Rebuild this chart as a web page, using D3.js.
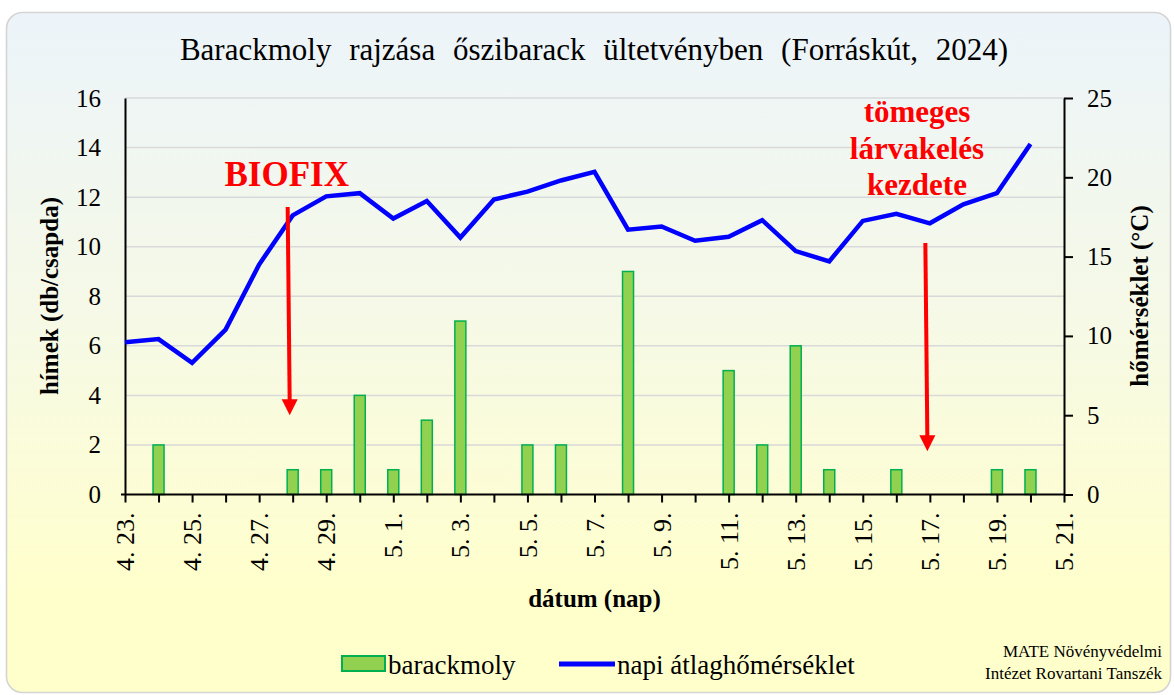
<!DOCTYPE html>
<html lang="hu">
<head>
<meta charset="UTF-8">
<title>Barackmoly rajzása</title>
<script src="https://d3js.org/d3.v7.min.js"></script>
<style>
body { margin: 0; background: #fff; }
text { font-family: "Liberation Serif", "Times New Roman", serif; fill: #000; }
</style>
</head>
<body>
<script>
// napok (hónap.nap)
var days = ["4.23","4.24","4.25","4.26","4.27","4.28","4.29","4.30",
  "5.1","5.2","5.3","5.4","5.5","5.6","5.7","5.8","5.9","5.10",
  "5.11","5.12","5.13","5.14","5.15","5.16","5.17","5.18","5.19","5.20","5.21"];

// barackmoly hímek / csapda
var moths = [0,2,0,0,0,1,1,4,1,3,7,0,2,2,0,9,0,0,5,2,6,1,0,1,0,0,1,1,0];

// napi átlaghőmérséklet (°C)
var temps = [9.6,9.8,8.3,10.4,14.5,17.6,18.8,19.0,17.4,18.5,16.2,18.6,19.1,19.8,20.35,
  16.7,16.9,16.0,16.25,17.3,15.35,14.7,17.25,17.7,17.1,18.3,19.0,22.1,null];

var leftTicks = [0,2,4,6,8,10,12,14,16];
var rightTicks = [0,5,10,15,20,25];

var width = 1174, height = 695;
var pLeft = 125, pRight = 1064, pTop = 98, pBottom = 494.5;

var svg = d3.select("body").append("svg")
  .attr("width", width)
  .attr("height", height);

var defs = svg.append("defs");
var grad = defs.append("linearGradient").attr("id", "bg")
  .attr("x1", 0).attr("y1", 0).attr("x2", 0).attr("y2", 1);
grad.append("stop").attr("offset", "0%").attr("stop-color", "#ecf4fa");
grad.append("stop").attr("offset", "45%").attr("stop-color", "#f6f9e6");
grad.append("stop").attr("offset", "85%").attr("stop-color", "#ffffcc");
grad.append("stop").attr("offset", "100%").attr("stop-color", "#ffffcb");

svg.append("rect")
  .attr("x", 6.5).attr("y", 12.5)
  .attr("width", 1164).attr("height", 680)
  .attr("rx", 16)
  .style("fill", "url(#bg)")
  .style("stroke", "#d4d4d4")
  .style("stroke-width", 1.6);

var x = d3.scalePoint().domain(days).range([pLeft, pRight]);
var yL = d3.scaleLinear().domain([0, 16]).range([pBottom, pTop]);
var yR = d3.scaleLinear().domain([0, 25]).range([pBottom, pTop]);

// gridlines
svg.append("g").selectAll("line")
  .data(leftTicks.filter(function(d) { return d > 0; }))
  .enter().append("line")
  .attr("x1", pLeft).attr("x2", pRight)
  .attr("y1", function(d) { return yL(d); })
  .attr("y2", function(d) { return yL(d); })
  .style("stroke", "#d9d9d9")
  .style("stroke-width", 1.5);

// title
svg.append("text")
  .attr("x", 594).attr("y", 60)
  .attr("text-anchor", "middle")
  .style("font-size", "31px")
  .style("word-spacing", "10px")
  .text("Barackmoly rajzása őszibarack ültetvényben (Forráskút, 2024)");

// bars
var bw = 11;
svg.append("g").selectAll("rect")
  .data(days.map(function(d, i) { return {day: d, v: moths[i]}; })
    .filter(function(d) { return d.v > 0; }))
  .enter().append("rect")
  .attr("x", function(d) { return x(d.day) - bw / 2; })
  .attr("y", function(d) { return yL(d.v); })
  .attr("width", bw)
  .attr("height", function(d) { return yL(0) - yL(d.v); })
  .style("fill", "#92d050")
  .style("stroke", "#00b050")
  .style("stroke-width", 1.5);

// left axis
var gL = svg.append("g").attr("transform", "translate(" + pLeft + ",0)")
  .call(d3.axisLeft(yL).tickValues(leftTicks).tickSize(0).tickPadding(24));
gL.select(".domain").style("stroke", "#000").style("stroke-width", 2);
gL.selectAll("text").style("font-size", "25px").style("font-family", "Liberation Serif, serif");

// right axis
var gR = svg.append("g").attr("transform", "translate(" + pRight + ",0)")
  .call(d3.axisRight(yR).tickValues(rightTicks).tickSize(9).tickSizeOuter(0).tickPadding(14));
gR.select(".domain").style("stroke", "#000").style("stroke-width", 2);
gR.selectAll("line").style("stroke", "#000").style("stroke-width", 2);
gR.selectAll("text").style("font-size", "25px").style("font-family", "Liberation Serif, serif");

// x axis
var gX = svg.append("g").attr("transform", "translate(0," + pBottom + ")")
  .call(d3.axisBottom(x).tickSize(8).tickSizeOuter(0).tickFormat(""));
gX.select(".domain").style("stroke", "#000").style("stroke-width", 2.2)
  .attr("d", "M" + (pLeft - 4) + ",0H" + pRight);
gX.selectAll("line").style("stroke", "#000").style("stroke-width", 2);

svg.append("g").selectAll("text")
  .data(days.filter(function(d, i) { return i % 2 === 0; }))
  .enter().append("text")
  .attr("transform", function(d) { return "translate(" + x(d) + "," + (pBottom + 18) + ") rotate(-90)"; })
  .attr("text-anchor", "end")
  .attr("dy", "0.35em")
  .style("font-size", "26px")
  .text(function(d) { var p = d.split("."); return p[0] + ". " + p[1] + "."; });

// temperature line
var line = d3.line()
  .defined(function(d) { return d != null; })
  .x(function(d, i) { return x(days[i]); })
  .y(function(d) { return yR(d); });

svg.append("path")
  .datum(temps)
  .attr("d", line)
  .style("fill", "none")
  .style("stroke", "#0000ff")
  .style("stroke-width", 4.5)
  .style("stroke-linejoin", "miter");

// axis titles
svg.append("text")
  .attr("transform", "translate(58,296) rotate(-90)")
  .attr("text-anchor", "middle")
  .style("font-size", "25px").style("font-weight", "bold")
  .text("hímek (db/csapda)");

svg.append("text")
  .attr("transform", "translate(1148,296) rotate(-90)")
  .attr("text-anchor", "middle")
  .style("font-size", "25px").style("font-weight", "bold")
  .text("hőmérséklet (°C)");

svg.append("text")
  .attr("x", (pLeft + pRight) / 2).attr("y", 607)
  .attr("text-anchor", "middle")
  .style("font-size", "25px").style("font-weight", "bold")
  .text("dátum (nap)");

// annotations
function arrow(x0, y0, x1, y1) {
  var hw = 8, hl = 16;
  svg.append("line")
    .attr("x1", x0).attr("y1", y0)
    .attr("x2", x1).attr("y2", y1 - hl + 2)
    .style("stroke", "#ff0000").style("stroke-width", 4);
  svg.append("path")
    .attr("d", "M" + (x1 - hw) + "," + (y1 - hl) + "L" + (x1 + hw) + "," + (y1 - hl) + "L" + x1 + "," + y1 + "Z")
    .style("fill", "#ff0000");
}

arrow(x("4.28") - 5, yL(11.6), x("4.28") - 3, yL(3.2));
arrow(x("5.17") - 4.5, yL(10.15), x("5.17") - 2.5, yL(1.75));

svg.append("text")
  .attr("x", x("4.28") - 6).attr("y", 186)
  .attr("text-anchor", "middle")
  .style("font-size", "35px").style("font-weight", "bold")
  .style("fill", "#ff0000")
  .text("BIOFIX");

var note = ["tömeges", "lárvakelés", "kezdete"];
svg.append("g").selectAll("text")
  .data(note)
  .enter().append("text")
  .attr("x", 917)
  .attr("y", function(d, i) { return 122 + i * 36.5; })
  .attr("text-anchor", "middle")
  .style("font-size", "31px").style("font-weight", "bold")
  .style("fill", "#ff0000")
  .text(function(d) { return d; });

// legend
var lg = svg.append("g");
lg.append("rect")
  .attr("x", 342).attr("y", 656)
  .attr("width", 43).attr("height", 15)
  .style("fill", "#92d050").style("stroke", "#00b050").style("stroke-width", 2);
lg.append("text")
  .attr("x", 388).attr("y", 674)
  .style("font-size", "27px")
  .text("barackmoly");
lg.append("line")
  .attr("x1", 559).attr("x2", 615)
  .attr("y1", 664).attr("y2", 664)
  .style("stroke", "#0000ff").style("stroke-width", 5);
lg.append("text")
  .attr("x", 617).attr("y", 674)
  .style("font-size", "27px")
  .text("napi átlaghőmérséklet");

// credit
svg.append("text")
  .attr("x", 1162).attr("y", 657)
  .attr("text-anchor", "end")
  .style("font-size", "17px")
  .text("MATE Növényvédelmi");
svg.append("text")
  .attr("x", 1162).attr("y", 679)
  .attr("text-anchor", "end")
  .style("font-size", "17px")
  .text("Intézet Rovartani Tanszék");
</script>
</body>
</html>
